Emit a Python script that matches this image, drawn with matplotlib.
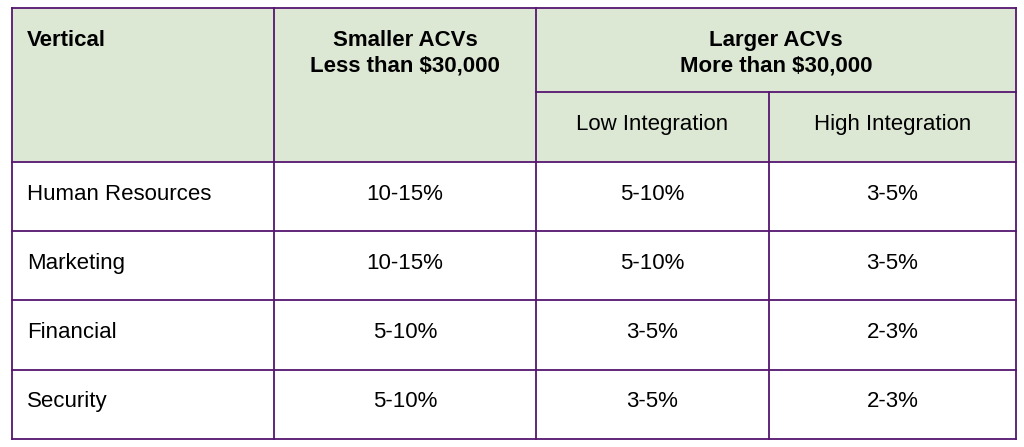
import matplotlib.pyplot as plt
from matplotlib.patches import Rectangle

# table content
verticals = ["Human Resources", "Marketing", "Financial", "Security"]
smaller_acv = ["10-15%", "10-15%", "5-10%", "5-10%"]
low_integration = ["5-10%", "5-10%", "3-5%", "3-5%"]
high_integration = ["3-5%", "3-5%", "2-3%", "2-3%"]

header_first = "Vertical"
header_small = "Smaller ACVs\nLess than $30,000"
header_large = "Larger ACVs\nMore than $30,000"
sub_headers = ["Low Integration", "High Integration"]

plt.rcParams["font.family"] = ["Liberation Sans", "DejaVu Sans"]

# layout in pixels
col_x = [12, 274, 536, 769, 1016]
top, sub_y, head_bottom = 8, 92, 162
row_h = 69.2
border = "#55166f"
head_bg = "#dce8d4"
fs = 16
shift = 2.5  # text sits a little above the cell middle

fig = plt.figure(figsize=(10.24, 4.47), dpi=100)
ax = fig.add_axes([0, 0, 1, 1])
ax.set_xlim(0, 1024)
ax.set_ylim(447, 0)
ax.axis("off")

n = len(verticals)
bottom = head_bottom + n * row_h

# header background
ax.add_patch(Rectangle((col_x[0], top), col_x[-1] - col_x[0], head_bottom - top,
                       facecolor=head_bg, edgecolor="none"))

lw = 1.3
# outer and grid lines
for y in [top, head_bottom] + [head_bottom + i * row_h for i in range(1, n + 1)]:
    ax.plot([col_x[0], col_x[-1]], [y, y], color=border, lw=lw, solid_capstyle="projecting")
ax.plot([col_x[2], col_x[4]], [sub_y, sub_y], color=border, lw=lw)
for i, x in enumerate(col_x):
    y0 = sub_y if i == 3 else top
    ax.plot([x, x], [y0, bottom], color=border, lw=lw, solid_capstyle="projecting")

# header text
ax.text(27, 40, header_first, fontsize=fs, fontweight="bold", ha="left", va="center")
ax.text((col_x[1] + col_x[2]) / 2, 53, header_small, fontsize=fs, fontweight="bold",
        ha="center", va="center", linespacing=1.3)
ax.text((col_x[2] + col_x[4]) / 2, 53, header_large, fontsize=fs, fontweight="bold",
        ha="center", va="center", linespacing=1.3)
for j, label in enumerate(sub_headers):
    ax.text((col_x[2 + j] + col_x[3 + j]) / 2, (sub_y + head_bottom) / 2 - shift, label,
            fontsize=fs, ha="center", va="center")

# body
columns = [smaller_acv, low_integration, high_integration]
for i in range(n):
    yc = head_bottom + (i + 0.5) * row_h - shift
    ax.text(27, yc, verticals[i], fontsize=fs, ha="left", va="center")
    for j, col in enumerate(columns):
        ax.text((col_x[1 + j] + col_x[2 + j]) / 2, yc, col[i], fontsize=fs,
                ha="center", va="center")

fig.savefig("out.png", dpi=100, facecolor="white")
